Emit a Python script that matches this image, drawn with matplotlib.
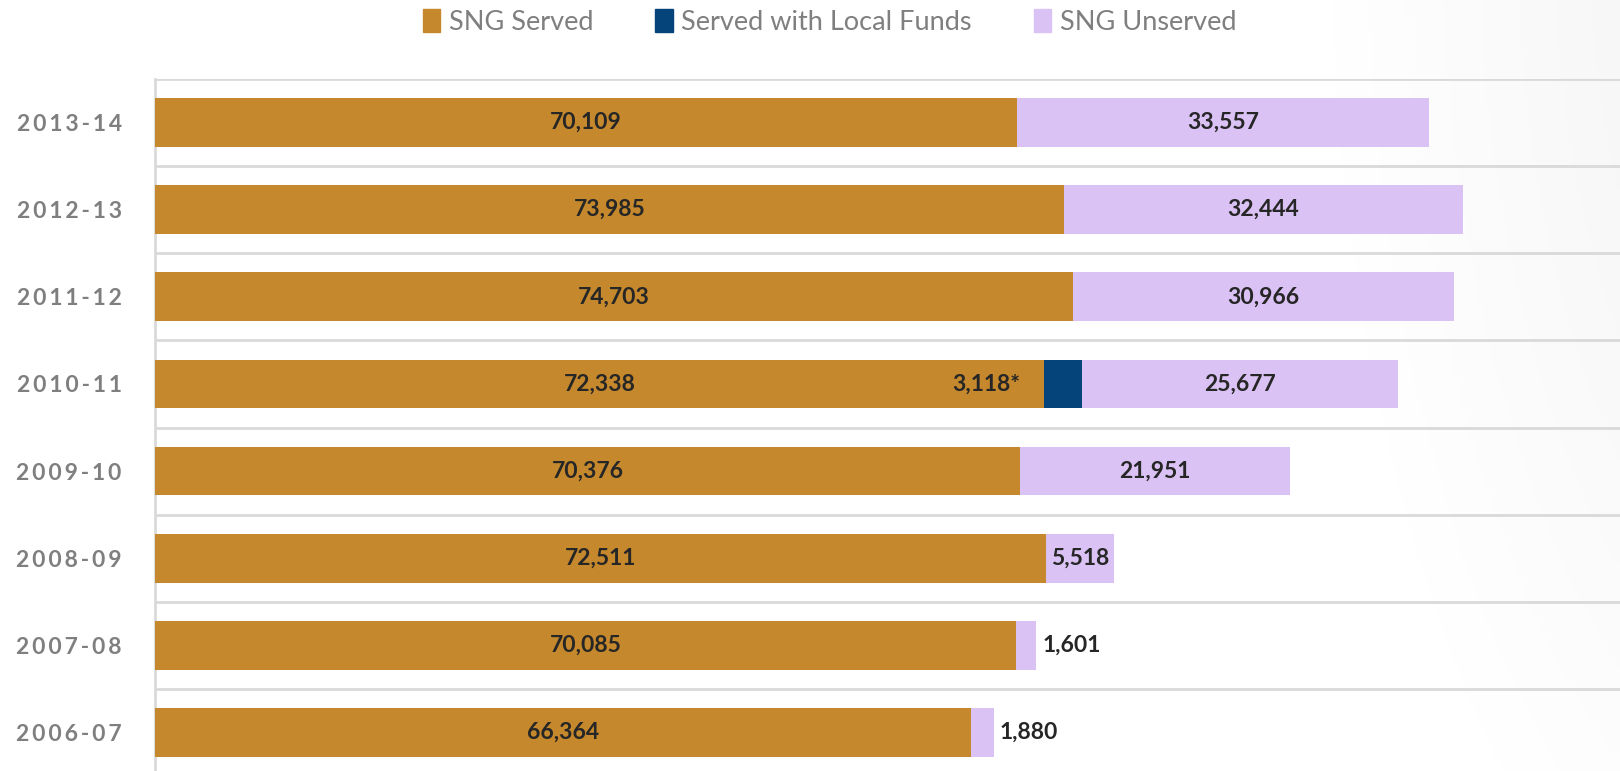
import matplotlib
matplotlib.use("Agg")
import matplotlib.pyplot as plt
import numpy as np
from matplotlib.patches import Patch

plt.rcParams['font.family'] = ['Lato', 'DejaVu Sans']

years = ["2013-14", "2012-13", "2011-12", "2010-11", "2009-10", "2008-09", "2007-08", "2006-07"]
sng_served = [70109, 73985, 74703, 72338, 70376, 72511, 70085, 66364]
local_funds = [0, 0, 0, 3118, 0, 0, 0, 0]
sng_unserved = [33557, 32444, 30966, 25677, 21951, 5518, 1601, 1880]

c_served = "#C5882C"
c_local = "#04447A"
c_unserved = "#DBC2F4"
label_color = "#262626"

fig = plt.figure(figsize=(16.2, 7.71), dpi=100)
fig.patch.set_facecolor("white")

# faint grey shading toward the right edge, like the slide background
bg = fig.add_axes([0, 0, 1, 1], zorder=-10)
gx, gy = np.meshgrid(np.linspace(0, 1, 400), np.linspace(0, 1, 200))
dist = np.sqrt(((gx - 1.15) / 0.35) ** 2 + ((gy - 1.1) / 1.6) ** 2)
shade = np.clip(1 - dist, 0, 1) * 0.06
bg.imshow(1 - shade, cmap="gray", vmin=0, vmax=1, extent=[0, 1, 0, 1], aspect="auto", origin="lower")
bg.axis("off")

ax = fig.add_axes([155 / 1620, -5 / 771, 1 - 155 / 1620 + 0.006, 697 / 771])
ax.patch.set_alpha(0)

y = np.arange(len(years))
h = 0.56
left2 = np.array(sng_served) + np.array(local_funds)
ax.barh(y, sng_served, height=h, color=c_served, label="SNG Served", zorder=3)
ax.barh(y, local_funds, left=sng_served, height=h, color=c_local, label="Served with Local Funds", zorder=3)
ax.barh(y, sng_unserved, left=left2, height=h, color=c_unserved, label="SNG Unserved", zorder=3)

ax.set_xlim(0, 120000)
ax.set_ylim(len(years) - 0.5, -0.5)

# gridlines between categories
for b in np.arange(-0.5, len(years), 1.0):
    ax.axhline(b, color="#D9D9D9", lw=2, zorder=1)

for s in ["top", "right", "bottom"]:
    ax.spines[s].set_visible(False)
ax.spines["left"].set_color("#D9D9D9")
ax.spines["left"].set_linewidth(2)
ax.set_xticks([])
ax.set_yticks(y)
spaced = ["\u2009".join(list(t)) for t in years]
ax.set_yticklabels(spaced, fontsize=16.5, fontweight="bold", color="#7F7F7F")
ax.tick_params(axis="y", length=0, pad=24)

lab_kw = dict(fontsize=16.5, fontweight="bold", color=label_color, va="center", zorder=5)
for i in range(len(years)):
    ax.text(sng_served[i] / 2, i, f"{sng_served[i]:,}", ha="center", **lab_kw)
    if local_funds[i] > 0:
        ax.text(sng_served[i] - 1900, i, f"{local_funds[i]:,}*", ha="right", **lab_kw)
    end = left2[i] + sng_unserved[i]
    if sng_unserved[i] > 4000:
        ax.text(left2[i] + sng_unserved[i] / 2, i, f"{sng_unserved[i]:,}", ha="center", **lab_kw)
    else:
        ax.text(end + 500, i, f"{sng_unserved[i]:,}", ha="left", **lab_kw)

handles = [Patch(color=c_served), Patch(color=c_local), Patch(color=c_unserved)]
fig.legend(handles, ["SNG Served", "Served with Local Funds", "SNG Unserved"],
           loc="center", bbox_to_anchor=(0.512, 0.972), ncol=3, frameon=False,
           fontsize=19.5, labelcolor="#7F7F7F", handlelength=0.65, handleheight=0.95,
           handletextpad=0.3, columnspacing=2.3)

fig.savefig("out.png", dpi=100)
